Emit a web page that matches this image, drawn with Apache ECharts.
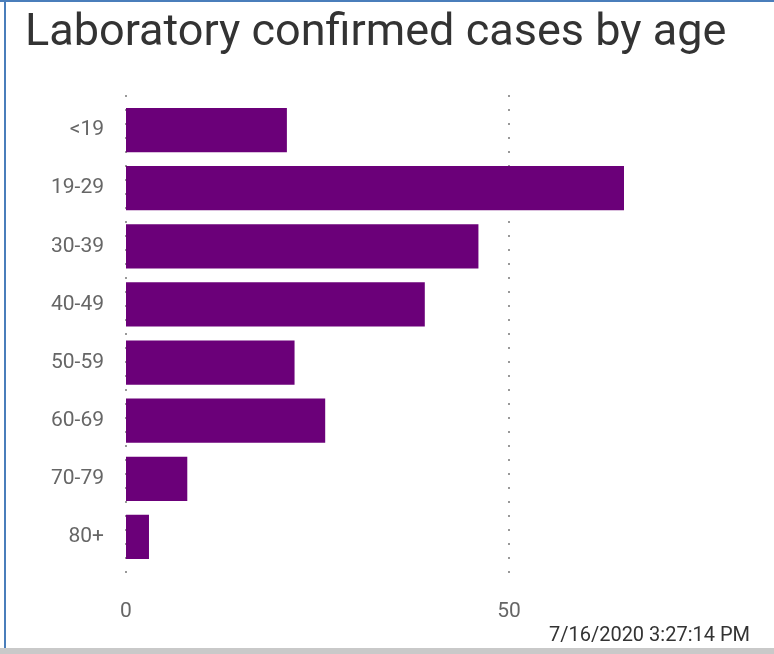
<!DOCTYPE html>
<html>
<head>
<meta charset="utf-8">
<script src="https://cdn.jsdelivr.net/npm/echarts@6/dist/echarts.min.js"></script>
<style>
html,body{margin:0;padding:0;background:#fff;}
#wrap{position:relative;width:774px;height:654px;overflow:hidden;}
#chart{position:absolute;left:0;top:0;width:774px;height:654px;}
.b{position:absolute;}
</style>
</head>
<body>
<div id="wrap">
<div id="chart"></div>
<div class="b" style="left:0;top:0;width:774px;height:2px;background:#4a7ebb;"></div>
<div class="b" style="left:4px;top:0;width:2px;height:648px;background:#4a7ebb;"></div>
<div class="b" style="left:0;top:648px;width:774px;height:6px;background:#c9c9c9;"></div>
</div>
<script>
const categories = ['<19', '19-29', '30-39', '40-49', '50-59', '60-69', '70-79', '80+'];
const cases = [21, 65, 46, 39, 22, 26, 8, 3];
const xTicks = [0, 50];
const titleText = 'Laboratory confirmed cases by age';
const timestamp = '7/16/2020 3:27:14 PM';

const chart = echarts.init(document.getElementById('chart'));
const axisMax = 65;
chart.setOption({
  animation: false,
  title: [{
    text: titleText, left: 20, top: 6,
    textStyle: {fontFamily: 'Roboto', fontSize: 45, fontWeight: 'normal', color: '#333333'}
  }, {
    text: timestamp, right: 19, top: 621,
    textStyle: {fontFamily: 'Roboto', fontSize: 20, fontWeight: 'normal', color: '#333333'}
  }],
  grid: [
    {left: 126, top: 101, width: 498, height: 465},
    {left: 126, top: 95, width: 498, height: 480}
  ],
  xAxis: [{
    gridIndex: 0, type: 'value', min: 0, max: axisMax, interval: 50,
    axisLine: {show: false}, axisTick: {show: false}, axisLabel: {show: false}, splitLine: {show: false}
  }, {
    gridIndex: 1, type: 'value', min: 0, max: axisMax, interval: 50,
    axisLine: {show: false}, axisTick: {show: false},
    axisLabel: {show: true, showMaxLabel: false, margin: 26, fontFamily: 'Roboto', fontSize: 21, color: '#666666',
      formatter: v => xTicks.indexOf(v) >= 0 ? String(v) : ''},
    splitLine: {show: true, lineStyle: {color: ['#999999', '#999999', 'rgba(0,0,0,0)'], width: 2, type: [2, 12]}}
  }],
  yAxis: [{
    gridIndex: 0, type: 'category', data: categories, inverse: true,
    axisLine: {show: false}, axisTick: {show: false},
    axisLabel: {margin: 22, fontFamily: 'Roboto', fontSize: 21, color: '#666666'}
  }, {
    gridIndex: 1, type: 'value', show: false, min: 0, max: 1
  }],
  series: [{
    type: 'bar', xAxisIndex: 0, yAxisIndex: 0, data: cases,
    barCategoryGap: '24%',
    itemStyle: {color: '#6b0079'}
  }, {
    type: 'scatter', xAxisIndex: 1, yAxisIndex: 1, data: [], silent: true
  }]
});
</script>
</body>
</html>
